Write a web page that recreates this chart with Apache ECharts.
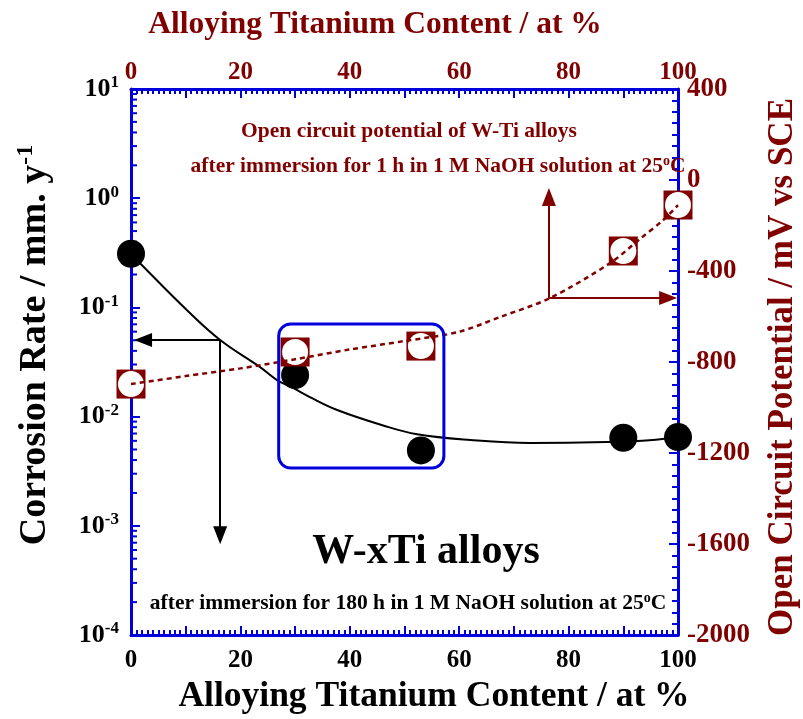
<!DOCTYPE html>
<html>
<head>
<meta charset="utf-8">
<script src="https://cdn.jsdelivr.net/npm/echarts@6/dist/echarts.min.js"></script>
<style>
html, body { margin: 0; padding: 0; background: #fff; }
#main { width: 803px; height: 719px; }
</style>
</head>
<body>
<div id="main"></div>
<script>
// measured points
var tiContent = [0, 30, 53, 90, 100];
var corrosionRate = [0.31, 0.024, 0.0049, 0.0064, 0.0065];
var ocpValue = [-897, -756, -730, -312, -110];

// fitted curves
var fitX = [0, 1.6, 10.2, 16.3, 23.6, 26.7, 29.6, 32.7, 37.7, 46.1, 52.3, 62.0, 72.9, 87.0, 95.4, 100];
var fitRate = [0.308, 0.255, 0.0946, 0.0503, 0.0284, 0.0216, 0.0183, 0.0151, 0.0115, 0.0083, 0.00690, 0.00611, 0.00573, 0.00585, 0.00611, 0.0065];
var ocpFitX = [0, 10, 20, 30, 40, 50, 60, 67.5, 76.6, 87.6, 93, 97.3, 100];
var ocpFitY = [-897, -862, -828, -788, -745, -708, -667, -602, -519, -365, -260, -176, -110];

// log axis decades (for minor ticks 2..9)
var decades = [0.0001, 0.001, 0.01, 0.1, 1];
var minorMult = [2, 3, 4, 5, 6, 7, 8, 9];

var BLUE = '#0000dd';
var MAROON = '#800000';
var FONT = '"Liberation Serif", "Times New Roman", serif';

var rateMinor = [];
decades.forEach(function (d) {
    minorMult.forEach(function (m) { rateMinor.push([0, d * m]); });
});

var chart = echarts.init(document.getElementById('main'));

chart.setOption({
    animation: false,
    backgroundColor: '#fff',
    grid: { left: 131, top: 89, width: 547, height: 546 },
    xAxis: [
        {
            type: 'value', position: 'bottom', min: 0, max: 100, interval: 10,
            axisLine: { onZero: false, lineStyle: { color: BLUE, width: 3 } },
            axisTick: { inside: true, length: 9, lineStyle: { color: BLUE, width: 2 } },
            minorTick: { show: true, splitNumber: 10, length: 5, lineStyle: { color: BLUE, width: 2 } },
            splitLine: { show: false },
            axisLabel: {
                margin: 13, color: '#000', fontFamily: FONT, fontWeight: 'bold', fontSize: 25,
                formatter: function (v) { return v % 20 === 0 ? String(v) : ''; }
            }
        },
        {
            type: 'value', position: 'top', min: 0, max: 100, interval: 10,
            axisLine: { onZero: false, lineStyle: { color: BLUE, width: 3 } },
            axisTick: { inside: true, length: 9, lineStyle: { color: BLUE, width: 2 } },
            minorTick: { show: true, splitNumber: 10, length: 5, lineStyle: { color: BLUE, width: 2 } },
            splitLine: { show: false },
            axisLabel: {
                margin: 4, color: MAROON, fontFamily: FONT, fontWeight: 'bold', fontSize: 25,
                formatter: function (v) { return v % 20 === 0 ? String(v) : ''; }
            }
        }
    ],
    yAxis: [
        {
            type: 'log', logBase: 10, min: 0.0001, max: 10, position: 'left',
            axisLine: { onZero: false, lineStyle: { color: BLUE, width: 3 } },
            axisTick: { inside: true, length: 9, lineStyle: { color: BLUE, width: 2 } },
            splitLine: { show: false },
            axisLabel: {
                margin: 12,
                formatter: function (v) {
                    var e = Math.round(Math.log(v) / Math.LN10);
                    return '{b|10}{s|' + e + '}';
                },
                rich: {
                    b: { fontFamily: FONT, fontWeight: 'bold', fontSize: 26, color: '#000' },
                    s: { fontFamily: FONT, fontWeight: 'bold', fontSize: 17, color: '#000', padding: [0, 0, 12, 0] }
                }
            }
        },
        {
            type: 'value', min: -2000, max: 400, interval: 400, position: 'right',
            axisLine: { onZero: false, lineStyle: { color: BLUE, width: 3 } },
            axisTick: { inside: true, length: 9, lineStyle: { color: BLUE, width: 2 } },
            minorTick: { show: true, splitNumber: 8, length: 6, lineStyle: { color: BLUE, width: 2 } },
            splitLine: { show: false },
            axisLabel: {
                margin: 9, color: MAROON, fontFamily: FONT, fontWeight: 'bold', fontSize: 27,
                formatter: function (v) { return String(v); }
            }
        }
    ],
    series: [
        {
            // minor ticks of the log axis
            type: 'custom', xAxisIndex: 0, yAxisIndex: 0, silent: true, clip: false,
            data: rateMinor,
            renderItem: function (params, api) {
                var p = api.coord([api.value(0), api.value(1)]);
                return {
                    type: 'line',
                    shape: { x1: p[0], y1: p[1], x2: p[0] + 6, y2: p[1] },
                    style: { stroke: BLUE, lineWidth: 2 }
                };
            },
            z: 1
        },
        {
            name: 'fit', type: 'line', xAxisIndex: 0, yAxisIndex: 0,
            data: fitX.map(function (x, i) { return [x, fitRate[i]]; }),
            smooth: 0.4, showSymbol: false, symbol: 'none',
            lineStyle: { color: '#000', width: 2 },
            markLine: {
                silent: true, symbol: ['none', 'triangle'], symbolSize: [14, 18],
                label: { show: false },
                lineStyle: { color: '#000', width: 2, type: 'solid' },
                data: [
                    [{ coord: [16.3, 0.0503] }, { coord: [2.2, 0.0503] }],
                    [{ coord: [16.3, 0.0503] }, { coord: [16.3, 0.00082] }]
                ]
            },
            z: 2
        },
        {
            name: 'Corrosion rate', type: 'scatter', xAxisIndex: 0, yAxisIndex: 0,
            data: tiContent.map(function (x, i) { return [x, corrosionRate[i]]; }),
            symbol: 'circle', symbolSize: 28,
            itemStyle: { color: '#000', opacity: 1 },
            z: 3
        },
        {
            name: 'OCP', type: 'scatter', xAxisIndex: 0, yAxisIndex: 1,
            data: tiContent.map(function (x, i) { return [x, ocpValue[i]]; }),
            symbol: 'rect', symbolSize: 29,
            itemStyle: { color: MAROON, opacity: 1 },
            z: 4
        },
        {
            name: 'OCP inner', type: 'scatter', xAxisIndex: 0, yAxisIndex: 1,
            data: tiContent.map(function (x, i) { return [x, ocpValue[i]]; }),
            symbol: 'circle', symbolSize: 26,
            itemStyle: { color: '#fff', opacity: 1 },
            z: 5
        },
        {
            name: 'OCP fit', type: 'line', xAxisIndex: 0, yAxisIndex: 1,
            data: ocpFitX.map(function (x, i) { return [x, ocpFitY[i]]; }),
            smooth: 0.3, showSymbol: false, symbol: 'none',
            lineStyle: { color: MAROON, width: 2.5, type: [5, 4] },
            markLine: {
                silent: true, symbol: ['none', 'triangle'], symbolSize: [14, 18],
                label: { show: false },
                lineStyle: { color: MAROON, width: 2, type: 'solid' },
                data: [
                    [{ coord: [76.4, -519] }, { coord: [98.2, -519] }],
                    [{ coord: [76.4, -519] }, { coord: [76.4, -75] }]
                ]
            },
            z: 6
        }
    ]
});

// rounded box around the 30 and 53 at% points
var boxTi = [27, 57.2];
var boxRate = [0.0705, 0.00338];
var p1 = chart.convertToPixel({ xAxisIndex: 0, yAxisIndex: 0 }, [boxTi[0], boxRate[0]]);
var p2 = chart.convertToPixel({ xAxisIndex: 0, yAxisIndex: 0 }, [boxTi[1], boxRate[1]]);

var supRich = {
    o: { fontFamily: FONT, fontWeight: 'bold', fontSize: 14, padding: [0, 0, 10, 0] }
};

chart.setOption({
    graphic: [
        {
            type: 'rect', z: 10,
            shape: { x: p1[0], y: p1[1], width: p2[0] - p1[0], height: p2[1] - p1[1], r: 12 },
            style: { fill: 'none', stroke: BLUE, lineWidth: 3 }
        },
        {
            type: 'text', x: 409, y: 131, z: 10,
            style: { text: 'Open circuit potential of W-Ti alloys', font: 'bold 21.5px ' + FONT, fill: MAROON, align: 'center', verticalAlign: 'middle' }
        },
        {
            type: 'text', x: 438, y: 166, z: 10,
            style: {
                text: 'after immersion for 1 h in 1 M NaOH solution at 25{o|o}C', font: 'bold 21.5px ' + FONT, fill: MAROON,
                align: 'center', verticalAlign: 'middle', rich: supRich
            }
        },
        {
            type: 'text', x: 426, y: 552, z: 10,
            style: { text: 'W-xTi alloys', font: 'bold 42px ' + FONT, fill: '#000', align: 'center', verticalAlign: 'middle' }
        },
        {
            type: 'text', x: 408, y: 603, z: 10,
            style: {
                text: 'after immersion for 180 h in 1 M NaOH solution at 25{o|o}C', font: 'bold 21.5px ' + FONT, fill: '#000',
                align: 'center', verticalAlign: 'middle', rich: supRich
            }
        },
        {
            type: 'text', x: 434, y: 697, z: 10,
            style: { text: 'Alloying Titanium Content / at %', font: 'bold 35.5px ' + FONT, fill: '#000', align: 'center', verticalAlign: 'middle' }
        },
        {
            type: 'text', x: 375, y: 25, z: 10,
            style: { text: 'Alloying Titanium Content / at %', font: 'bold 31.5px ' + FONT, fill: MAROON, align: 'center', verticalAlign: 'middle' }
        },
        {
            type: 'text', x: 35, y: 345, rotation: Math.PI / 2, z: 10,
            style: {
                text: 'Corrosion Rate / mm. y{s|-1}', font: 'bold 38px ' + FONT, fill: '#000',
                align: 'center', verticalAlign: 'middle',
                rich: { s: { fontFamily: FONT, fontWeight: 'bold', fontSize: 24, padding: [0, 0, 18, 0] } }
            }
        },
        {
            type: 'text', x: 783, y: 367, rotation: Math.PI / 2, z: 10,
            style: { text: 'Open Circuit Potential / mV vs SCE', font: 'bold 35px ' + FONT, fill: MAROON, align: 'center', verticalAlign: 'middle' }
        }
    ]
});
</script>
</body>
</html>
